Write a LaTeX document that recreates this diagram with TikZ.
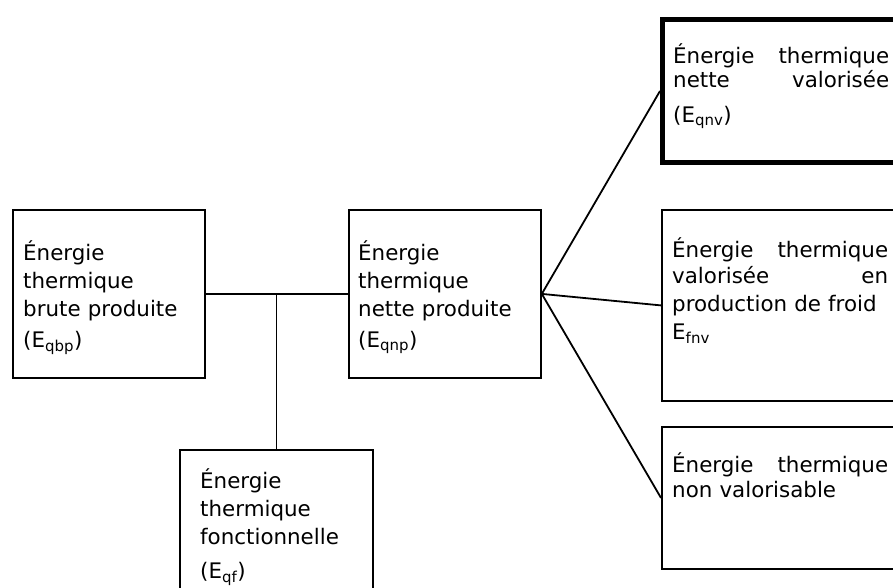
\documentclass[tikz,border=0pt]{standalone}
\usepackage{fontspec}
\setmainfont{DejaVu Sans}
\usetikzlibrary{positioning}

\tikzset{
	box/.style = {draw, rectangle, line width = 1.8pt, inner sep = 0pt, anchor = north west},
	thickbox/.style = {box, line width = 5pt},
	txt/.style = {inner sep = 0pt, anchor = base west, align = left, text width = #1,
		font = \fontsize{21.4}{28}\selectfont},
	txt/.default = 180pt,
	link/.style = {line width = 1.8pt}
}

\begin{document}
\begin{tikzpicture}[x = 1pt, y = -1pt]
	\useasboundingbox (0,0) rectangle (893,587);
	\clip (0,0) rectangle (893,587);
	% left part
	\node[box, minimum width = 192pt, minimum height = 168pt] (brute) at (12,209) {};
	\node[txt] (brutetxt) at (23,260) {Énergie\\thermique\\brute produite\\[3pt](E\textsubscript{qbp})};
	\node[box, minimum width = 192pt, minimum height = 168pt] (nette) at (348,209) {};
	\node[txt] (nettetxt) at (358,260) {Énergie\\thermique\\nette produite\\[3pt](E\textsubscript{qnp})};
	\node[box, minimum width = 193pt, minimum height = 180pt] (fonct) at (179,449) {};
	\node[txt] (foncttxt) at (200,488) {Énergie\\thermique\\fonctionnelle\\[6pt](E\textsubscript{qf})};
	% right part
	\node[thickbox, minimum width = 260pt, minimum height = 143pt] (valor) at (660,17) {};
	\node[txt = 216pt] (valortxt) at (673,63) {Énergie\hfill thermique\\[-4pt]nette\hfill valorisée\\[7pt](E\textsubscript{qnv})};
	\node[box, minimum width = 260pt, minimum height = 191pt] (froid) at (661,209) {};
	\node[txt = 216pt] (froidtxt) at (672,257) {Énergie\hfill thermique\\[-2pt]valorisée\hfill en\\production de froid\\E\textsubscript{fnv}};
	\node[box, minimum width = 260pt, minimum height = 142pt] (nonval) at (661,426) {};
	\node[txt = 216pt] (nonvaltxt) at (672,472) {Énergie\hfill thermique\\[-3pt]non valorisable};
	% connectors
	\coordinate (junc) at (brute.east -| fonct.north);
	\draw[link] (brute.east) -- (nette.west);
	\draw[link] (junc) -- (fonct.north);
	\draw[link] (nette.east) -- (valor.west);
	\draw[link] (nette.east) -- (froid.west);
	\draw[link] (nette.east) -- (nonval.west);
\end{tikzpicture}
\end{document}
